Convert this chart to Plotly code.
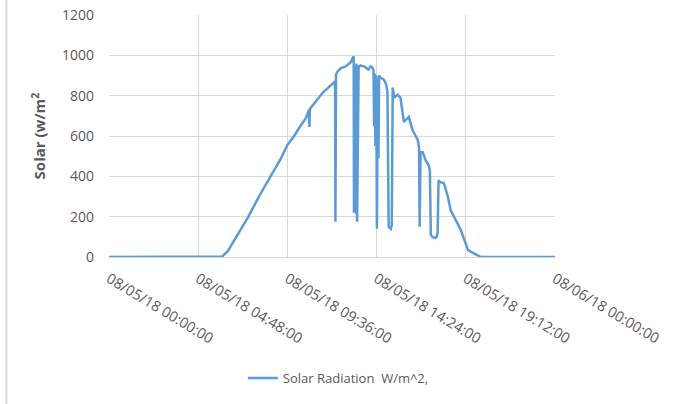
import plotly.graph_objects as go

# Time of day (hours after 08/05/18 00:00) and solar radiation (W/m^2)
hours = [0.0, 3.0, 6.0, 6.09, 6.4, 6.69, 7.1, 7.5, 8.1, 8.68, 9.2, 9.6, 10.0, 10.3,
         10.6, 10.77, 10.79, 10.81, 11.11, 11.54, 11.8, 12.08, 12.16, 12.19, 12.22,
         12.30, 12.46, 12.6, 12.73, 13.0, 13.16, 13.19, 13.21, 13.24, 13.27, 13.30,
         13.32, 13.35, 13.40, 13.43, 13.46, 13.54, 13.7, 13.81, 13.95, 14.08, 14.2,
         14.24, 14.27, 14.30, 14.33, 14.38, 14.42, 14.46, 14.50, 14.54, 14.6,
         14.78, 14.9, 14.99, 15.05, 15.16, 15.22, 15.26, 15.35, 15.53, 15.69,
         15.78, 15.86, 16.13, 16.34, 16.5, 16.61, 16.68, 16.72, 16.76, 16.88, 17.04,
         17.2, 17.26, 17.32, 17.42, 17.55, 17.64, 17.69, 17.74, 17.85, 18.01,
         18.23, 18.39, 18.66, 18.93, 19.2, 19.31, 19.58, 19.8, 20.01, 22.0, 24.0]
solar = [0, 0, 0, 2, 30, 75, 140, 200, 305, 400, 480, 555, 605, 650,
         690, 730, 645, 735, 770, 818, 840, 865, 870, 175, 905,
         920, 935, 940, 945, 965, 995, 220, 950, 230, 940, 215,
         960, 175, 900, 950, 945, 950, 945, 940, 930, 945, 935,
         925, 650, 910, 550, 900, 140, 880, 490, 900, 890,
         880, 860, 820, 150, 140, 160, 840, 790, 805, 790,
         720, 670, 695, 630, 600, 580, 540, 150, 520, 520, 480,
         455, 430, 110, 98, 95, 100, 120, 380, 370, 367,
         300, 233, 183, 134, 65, 35, 20, 8, 0, 0, 0]
times = [f"2018-08-05 {int(h):02d}:{int(round((h % 1) * 60)) % 60:02d}:00" if h < 24
         else "2018-08-06 00:00:00" for h in hours]

series_name = "Solar Radiation\u00a0 W/m^2,"
y_ticks = [0, 200, 400, 600, 800, 1000, 1200]

font_family = "Open Sans"
grey = "#595959"
grid = "#d9d9d9"

fig = go.Figure()
fig.add_trace(go.Scatter(
    x=times, y=solar, mode="lines", name=series_name,
    line=dict(color="#5b9bd5", width=2.5),
))

fig.update_layout(
    width=684, height=404,
    margin=dict(l=109, r=129, t=15, b=147, autoexpand=False),
    paper_bgcolor="white", plot_bgcolor="white",
    font=dict(family=font_family, size=13, color=grey),
    showlegend=True,
    legend=dict(orientation="h", xref="container", yref="container",
                x=0.355, xanchor="left", y=0.064, yanchor="middle",
                font=dict(size=13, color=grey), bgcolor="rgba(0,0,0,0)"),
    xaxis=dict(
        type="date", automargin=False,
        range=["2018-08-05 00:00:00", "2018-08-06 00:00:00"],
        tick0="2018-08-05 00:00:00", dtick=17280000,
        tickformat="%m/%d/%y %H:%M:%S",
        tickangle=31,
        ticklabelstandoff=7,
        showgrid=True, gridcolor=grid, gridwidth=1,
        showline=True, linecolor=grid, linewidth=1,
        ticks="", zeroline=False,
        tickfont=dict(size=14.5, color=grey),
    ),
    yaxis=dict(
        automargin=False,
        range=[0, 1200], tickvals=y_ticks, ticktext=[str(v) for v in y_ticks],
        showgrid=True, gridcolor=grid, gridwidth=1,
        showline=False, zeroline=False, ticks="",
        ticklabelstandoff=14,
        tickfont=dict(size=14, color=grey),
        title=dict(text="<b>Solar (w/m<sup>2</sup></b>", standoff=12,
                   font=dict(size=15, color=grey)),
    ),
    shapes=[dict(type="line", xref="paper", yref="paper",
                 x0=-0.23, x1=-0.23, y0=-0.62, y1=1.07,
                 line=dict(color=grid, width=2))],
)

fig.write_html("out.html")
